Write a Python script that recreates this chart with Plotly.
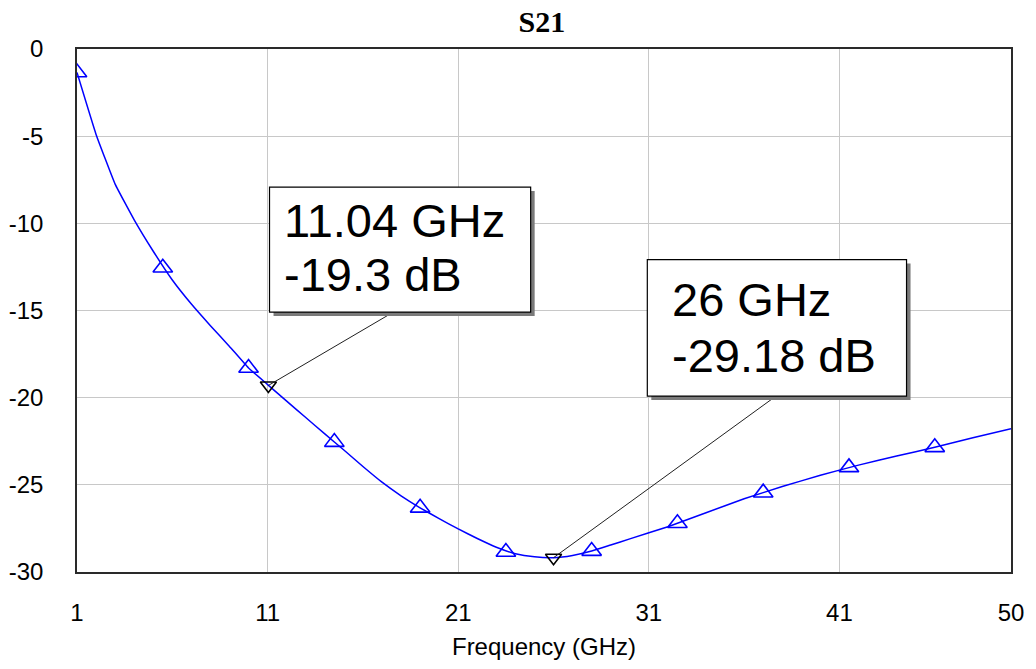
import plotly.graph_objects as go

# S21 transmission sweep (GHz, dB)
freq_ghz = [1, 2, 3, 4, 5, 6, 7, 8, 9, 10, 11, 12, 13, 14, 15, 16, 17, 18, 19, 20,
            21, 22, 23, 24, 25, 26, 27, 28, 29, 30, 32, 34, 36, 38, 40, 42, 44, 46, 48, 50]
s21_db = [-1.35, -4.9, -7.75, -9.8, -11.6, -13.25, -14.63, -15.87, -17.06, -18.3,
          -19.25, -20.2, -21.14, -22.08, -23.0, -23.95, -24.85, -25.63, -26.32, -26.94,
          -27.53, -28.08, -28.58, -28.95, -29.13, -29.18, -29.05, -28.8, -28.45, -28.1,
          -27.4, -26.6, -25.8, -25.1, -24.45, -23.87, -23.35, -22.85, -22.3, -21.78]

# symbol markers along the trace
sym_freq = [1, 5.5, 10, 14.5, 19, 23.5, 28, 32.5, 37, 41.5, 46]
sym_db = [-1.35, -12.55, -18.3, -22.55, -26.32, -28.85, -28.8, -27.2, -25.45, -24.0, -22.85]

# marker readouts
mk_freq = [11.04, 26]
mk_db = [-19.3, -29.18]

x_ticks = [1, 11, 21, 31, 41, 50]
y_ticks = [0, -5, -10, -15, -20, -25, -30]

fig = go.Figure()
fig.add_trace(go.Scatter(x=freq_ghz, y=s21_db, mode="lines",
                         line=dict(color="#0000ff", width=1.5, shape="spline", smoothing=0.3),
                         showlegend=False, hoverinfo="skip"))
fig.add_trace(go.Scatter(x=sym_freq, y=sym_db, mode="markers",
                         marker=dict(symbol="triangle-up-open", size=17, color="#0000ff",
                                     line=dict(width=1.6, color="#0000ff")),
                         showlegend=False))
fig.add_trace(go.Scatter(x=mk_freq, y=mk_db, mode="markers",
                         marker=dict(symbol="triangle-down-open", size=14, color="#000000",
                                     line=dict(width=1.6, color="#000000")),
                         showlegend=False))

# readout boxes: (x0, x1, y0, y1) in data units, leader end x, text anchors
boxes = [
    dict(x0=11.1, x1=24.8, y0=-15.09, y1=-7.92, lx=17.6, tx=11.77, ty=[-9.85, -12.95]),
    dict(x0=30.92, x1=44.52, y0=-19.91, y1=-12.08, lx=37.67, tx=32.1, ty=[-14.35, -17.6]),
]
px_x = 19.07  # px per GHz
px_y = 17.43  # px per dB
shapes = []
annotations = []
for i, b in enumerate(boxes):
    shapes.append(dict(type="line", xref="x", yref="y", x0=mk_freq[i], y0=mk_db[i], x1=b["lx"], y1=b["y0"],
                       line=dict(color="#202020", width=1), layer="above"))
    shapes.append(dict(type="rect", xref="x", yref="y", x0=b["x0"] + 4 / px_x, x1=b["x1"] + 4 / px_x,
                       y0=b["y0"] - 4 / px_y, y1=b["y1"] - 4 / px_y,
                       fillcolor="#7a7a7a", line=dict(width=0), layer="above"))
    shapes.append(dict(type="rect", xref="x", yref="y", x0=b["x0"], x1=b["x1"], y0=b["y0"], y1=b["y1"],
                       fillcolor="#ffffff", line=dict(color="#000000", width=1.2), layer="above"))
    lines = [f"{mk_freq[i]:g} GHz", f"{mk_db[i]:g} dB"]
    for t, yy in zip(lines, b["ty"]):
        annotations.append(dict(x=b["tx"], y=yy, xref="x", yref="y", text=t, showarrow=False,
                                xanchor="left", yanchor="middle",
                                font=dict(family="Liberation Sans, Arial", size=47, color="#000000")))

fig.update_layout(
    width=1036, height=669,
    margin=dict(l=77, r=25, t=49, b=97),
    paper_bgcolor="#ffffff", plot_bgcolor="#ffffff",
    title=dict(text="<b>S21</b>", x=0.523, xanchor="center", y=0.968, yanchor="middle",
               font=dict(family="Liberation Serif, Times New Roman", size=30, color="#000000")),
    shapes=shapes, annotations=annotations,
    xaxis=dict(range=[1, 50], tickvals=x_ticks, ticktext=[str(v) for v in x_ticks],
               automargin=False,
               showgrid=True, gridcolor="#c8c8c8", gridwidth=1, zeroline=False,
               showline=True, linecolor="#2a2a2a", linewidth=1.5, mirror=True, ticks="",
               ticklabelstandoff=18,
               tickfont=dict(family="Liberation Sans, Arial", size=24, color="#000000"),
               title=dict(text="Frequency (GHz)", standoff=14,
                          font=dict(family="Liberation Sans, Arial", size=24, color="#000000"))),
    yaxis=dict(range=[-30, 0], tickvals=y_ticks, ticktext=[str(v) for v in y_ticks],
               automargin=False,
               showgrid=True, gridcolor="#c8c8c8", gridwidth=1, zeroline=False,
               showline=True, linecolor="#2a2a2a", linewidth=1.5, mirror=True, ticks="",
               ticklabelstandoff=27,
               tickfont=dict(family="Liberation Sans, Arial", size=24, color="#000000")),
)

fig.write_html("out.html")
